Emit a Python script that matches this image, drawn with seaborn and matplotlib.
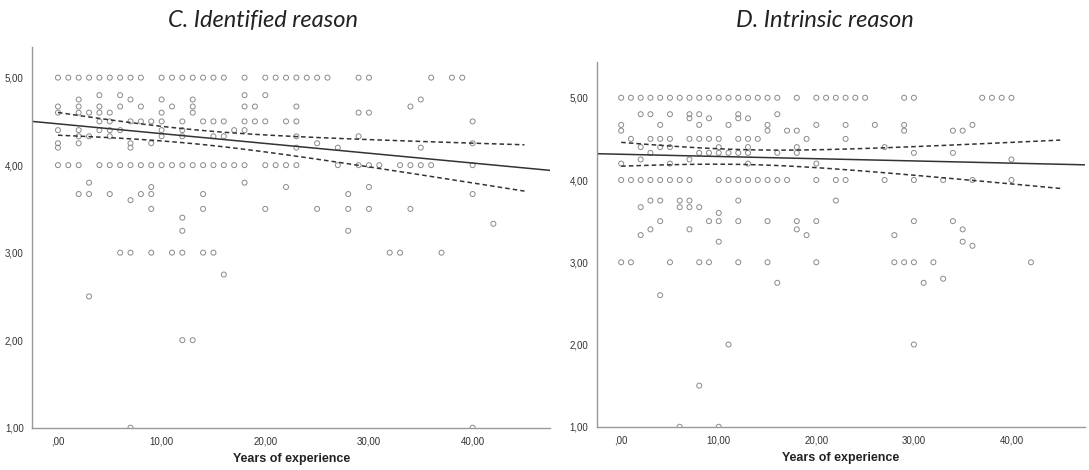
import numpy as np
import pandas as pd
import matplotlib
matplotlib.use('Agg')
import matplotlib.pyplot as plt
import seaborn as sns
from matplotlib.ticker import FuncFormatter

# Panel C: years of experience vs identified reason score (one list per score row)
c_rows = {
    5.00: [0, 1, 2, 3, 4, 5, 6, 7, 8, 10, 11, 12, 13, 14, 15, 16, 18, 20, 21, 22, 23, 24, 25, 26, 29, 30, 36, 38, 39],
    4.80: [4, 6, 18, 20],
    4.75: [2, 7, 10, 13, 35],
    4.67: [0, 2, 4, 6, 8, 11, 13, 18, 19, 23, 34],
    4.60: [0, 2, 3, 4, 5, 10, 13, 29, 30],
    4.50: [4, 5, 7, 8, 9, 10, 12, 14, 15, 16, 18, 19, 20, 22, 23, 40],
    4.40: [0, 2, 4, 5, 6, 10, 12, 17, 18],
    4.33: [2, 3, 5, 10, 12, 15, 16, 23, 29],
    4.25: [0, 2, 7, 9, 25, 40],
    4.20: [0, 7, 23, 27, 35],
    4.00: [0, 1, 2, 4, 5, 6, 7, 8, 9, 10, 11, 12, 13, 14, 15, 16, 17, 18, 20, 21, 22, 23, 27, 29, 30, 31, 33, 34, 35, 36, 40],
    3.80: [3, 18],
    3.75: [9, 22, 30],
    3.67: [2, 3, 5, 8, 9, 14, 28, 40],
    3.60: [7],
    3.50: [9, 14, 20, 25, 28, 30, 34],
    3.40: [12],
    3.33: [42],
    3.25: [12, 28],
    3.00: [6, 7, 9, 11, 12, 14, 15, 32, 33, 37],
    2.75: [16],
    2.50: [3],
    2.00: [12, 13],
    1.00: [7, 40],
}

# Panel D: years of experience vs intrinsic reason score
d_rows = {
    5.00: [0, 1, 2, 3, 4, 5, 6, 7, 8, 9, 10, 11, 12, 13, 14, 15, 16, 18, 20, 21, 22, 23, 24, 25, 29, 30, 37, 38, 39, 40],
    4.80: [2, 3, 5, 7, 8, 12, 16],
    4.75: [7, 9, 12, 13],
    4.67: [0, 4, 8, 11, 15, 20, 23, 26, 29, 36],
    4.60: [0, 15, 17, 18, 29, 34, 35],
    4.50: [1, 3, 4, 5, 7, 8, 9, 10, 12, 13, 14, 19, 23],
    4.40: [2, 4, 5, 10, 13, 18, 27],
    4.33: [3, 8, 9, 10, 11, 12, 13, 16, 18, 30, 34],
    4.25: [2, 7, 40],
    4.20: [0, 5, 13, 20],
    4.00: [0, 1, 2, 3, 4, 5, 6, 7, 10, 11, 12, 13, 14, 15, 16, 17, 20, 22, 23, 27, 30, 33, 36, 40],
    3.75: [3, 4, 6, 7, 12, 22],
    3.67: [2, 6, 7, 8],
    3.60: [10],
    3.50: [4, 9, 10, 12, 15, 18, 20, 30, 34],
    3.40: [3, 7, 18, 35],
    3.33: [2, 19, 28],
    3.25: [10, 35],
    3.20: [36],
    3.00: [0, 1, 5, 8, 9, 12, 15, 20, 28, 29, 30, 32, 42],
    2.80: [33],
    2.75: [16, 31],
    2.60: [4],
    2.00: [11, 30],
    1.50: [8],
    1.00: [6, 10],
}

titles = ['C. Identified reason', 'D. Intrinsic reason']
x_ticks = [0, 10, 20, 30, 40]
y_ticks = [1, 2, 3, 4, 5]

# fit lines (many overlapping points are hidden,
# so a refit of the visible points does not reproduce them)
fit_intercept = [4.472, 4.313]
fit_slope = [-0.0112, -0.0027]
# 95% CI of the mean: centre (mean years), narrowest half-width, half-width at 0 years
ci_center = [13.0, 13.0]
ci_min_half = [0.08, 0.09]
ci_half_at0 = [0.13, 0.145]
ci_x_range = [0, 45]


def to_frame(rows):
    years, scores = [], []
    for score, yrs in rows.items():
        years += yrs
        scores += [score] * len(yrs)
    return pd.DataFrame({'years': years, 'score': scores})


def comma_fmt(v, _):
    s = f'{v:.2f}'.replace('.', ',')
    return s[1:] if s.startswith('0,') else s


def draw_panel(ax, df, ymax, i):
    sns.scatterplot(data=df, x='years', y='score', ax=ax, s=13,
                    facecolors='none', edgecolor='#8a8a8a', linewidth=0.7)

    b0, b1 = fit_intercept[i], fit_slope[i]
    xf = np.linspace(-2.5, 47.5, 50)
    ax.plot(xf, b0 + b1 * xf, color='#333333', lw=1.1)

    m, h0, ha = ci_center[i], ci_min_half[i], ci_half_at0[i]
    k2 = (ha ** 2 - h0 ** 2) / m ** 2
    xc = np.linspace(ci_x_range[0], ci_x_range[1], 60)
    half = np.sqrt(h0 ** 2 + k2 * (xc - m) ** 2)
    for sign in (1, -1):
        ax.plot(xc, b0 + b1 * xc + sign * half, color='#333333',
                lw=1.1, dashes=(3, 2))

    ax.set_xlim(-2.5, 47.5)
    ax.set_ylim(1.0, ymax)
    ax.set_xticks(x_ticks)
    ax.set_yticks(y_ticks)
    ax.xaxis.set_major_formatter(FuncFormatter(comma_fmt))
    ax.yaxis.set_major_formatter(FuncFormatter(comma_fmt))
    ax.tick_params(axis='both', direction='out', length=4, width=1,
                   color='#555555', labelsize=7, labelcolor='#333333', pad=2)
    for side in ('top', 'right'):
        ax.spines[side].set_visible(False)
    for side in ('left', 'bottom'):
        ax.spines[side].set_color('#999999')
        ax.spines[side].set_linewidth(1.0)
    ax.set_xlabel('Years of experience', fontsize=9, fontweight='bold',
                  color='#222222', labelpad=5)
    ax.set_ylabel('')


sns.set_style('white')
plt.rcParams['font.family'] = ['Liberation Sans', 'DejaVu Sans']

fig = plt.figure(figsize=(10.89, 4.70), dpi=100)
ax_c = fig.add_axes([0.0294, 0.090, 0.476, 0.810])
ax_d = fig.add_axes([0.548, 0.092, 0.448, 0.777])

draw_panel(ax_c, to_frame(c_rows), 5.35, 0)
draw_panel(ax_d, to_frame(d_rows), 5.44, 1)

fig.text(0.2415, 0.957, titles[0], ha='center', va='center', fontsize=17,
         style='italic', family=['Lato', 'DejaVu Sans'], color='#222222')
fig.text(0.7576, 0.957, titles[1], ha='center', va='center', fontsize=17,
         style='italic', family=['Lato', 'DejaVu Sans'], color='#222222')

fig.savefig('out.png', dpi=100)
